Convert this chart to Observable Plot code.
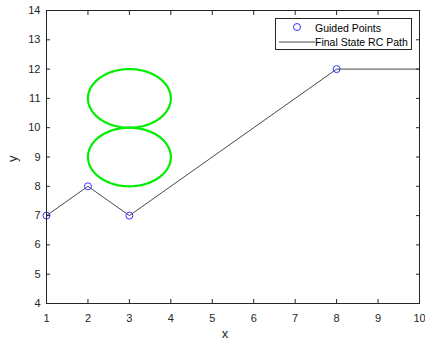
<!DOCTYPE html>
<html><head><meta charset="utf-8">
<script src="https://cdn.jsdelivr.net/npm/d3@7"></script>
<script src="https://cdn.jsdelivr.net/npm/@observablehq/plot@0.6"></script>
<style>
body{margin:0;background:#fff;font-family:"Liberation Sans",Arial,sans-serif;}
#wrap{position:relative;width:425px;height:342px;}
#legend{position:absolute;left:275px;top:18px;width:135px;height:30px;border:1px solid #262626;background:#fff;font-size:10.5px;color:#000;}
#legend .row{position:absolute;left:0;height:14px;line-height:14px;}
</style>
</head><body>
<div id="wrap"></div>
<script>
const guidedX = [1, 2, 3, 8];
const guidedY = [7, 8, 7, 12];
const pathX = [1, 2, 3, 8, 10];
const pathY = [7, 8, 7, 12, 12];
const ellipseCX = [3, 3];
const ellipseCY = [11, 9];
const ellipseRX = [1, 1];
const ellipseRY = [1, 1];
const xTicks = [1,2,3,4,5,6,7,8,9,10];
const yTicks = [4,5,6,7,8,9,10,11,12,13,14];
const xLabel = "x";
const yLabel = "y";

const guided = guidedX.map((x,i)=>({x, y: guidedY[i]}));
const path = pathX.map((x,i)=>({x, y: pathY[i]}));
const ellipses = [];
ellipseCX.forEach((cx,k)=>{
  for (let j=0;j<=120;j++){
    const t = j/120*2*Math.PI;
    ellipses.push({id:k, x: cx + ellipseRX[k]*Math.cos(t), y: ellipseCY[k] + ellipseRY[k]*Math.sin(t)});
  }
});

const axisColor = "#262626";
const chart = Plot.plot({
  width: 425, height: 342,
  marginLeft: 46, marginRight: 6, marginTop: 10, marginBottom: 39,
  style: {fontFamily: '"Liberation Sans", Arial, sans-serif', fontSize: "11px", color: axisColor, background: "#fff"},
  x: {domain: [1, 10]},
  y: {domain: [4, 14]},
  marks: [
    Plot.line(ellipses, {x: "x", y: "y", z: "id", stroke: "#00ee00", strokeWidth: 2.2}),
    Plot.line(path, {x: "x", y: "y", stroke: "#333", strokeWidth: 0.9}),
    Plot.dot(guided, {x: "x", y: "y", r: 3.5, stroke: "#3333ff", strokeWidth: 1, fill: "none"}),
    Plot.frame({stroke: axisColor, strokeWidth: 1}),
    Plot.axisX({ticks: xTicks, anchor: "bottom", tickSize: -4, tickPadding: 15, label: null, fill: axisColor, stroke: axisColor}),
    Plot.axisX({ticks: xTicks, anchor: "top", tickSize: -4, tickFormat: () => "", label: null, stroke: axisColor}),
    Plot.axisY({ticks: yTicks, anchor: "left", tickSize: -4, tickPadding: 10, label: null, fill: axisColor, stroke: axisColor}),
    Plot.axisY({ticks: yTicks, anchor: "right", tickSize: -4, tickFormat: () => "", label: null, stroke: axisColor}),
    Plot.text([xLabel], {text: d => d, frameAnchor: "bottom", dy: 34, dx: -8, fontSize: 13, fill: axisColor}),
    Plot.text([yLabel], {text: d => d, frameAnchor: "left", dx: -34, dy: 5, rotate: -90, fontSize: 13, fill: axisColor})
  ]
});
const wrap = document.getElementById("wrap");
wrap.appendChild(chart);

const leg = document.createElement("div");
leg.id = "legend";
leg.innerHTML = `
<div class="row" style="top:2px;width:135px">
  <svg width="40" height="14" style="position:absolute;left:2px;top:0"><circle cx="19" cy="6" r="3.5" fill="none" stroke="#3333ff" stroke-width="1"/></svg>
  <span style="position:absolute;left:39px;white-space:nowrap">Guided Points</span>
</div>
<div class="row" style="top:16px;width:135px">
  <svg width="40" height="14" style="position:absolute;left:2px;top:0"><line x1="1" x2="37" y1="7" y2="7" stroke="#333" stroke-width="0.9"/></svg>
  <span style="position:absolute;left:39px;white-space:nowrap">Final State RC Path</span>
</div>`;
wrap.appendChild(leg);
</script>
</body></html>
